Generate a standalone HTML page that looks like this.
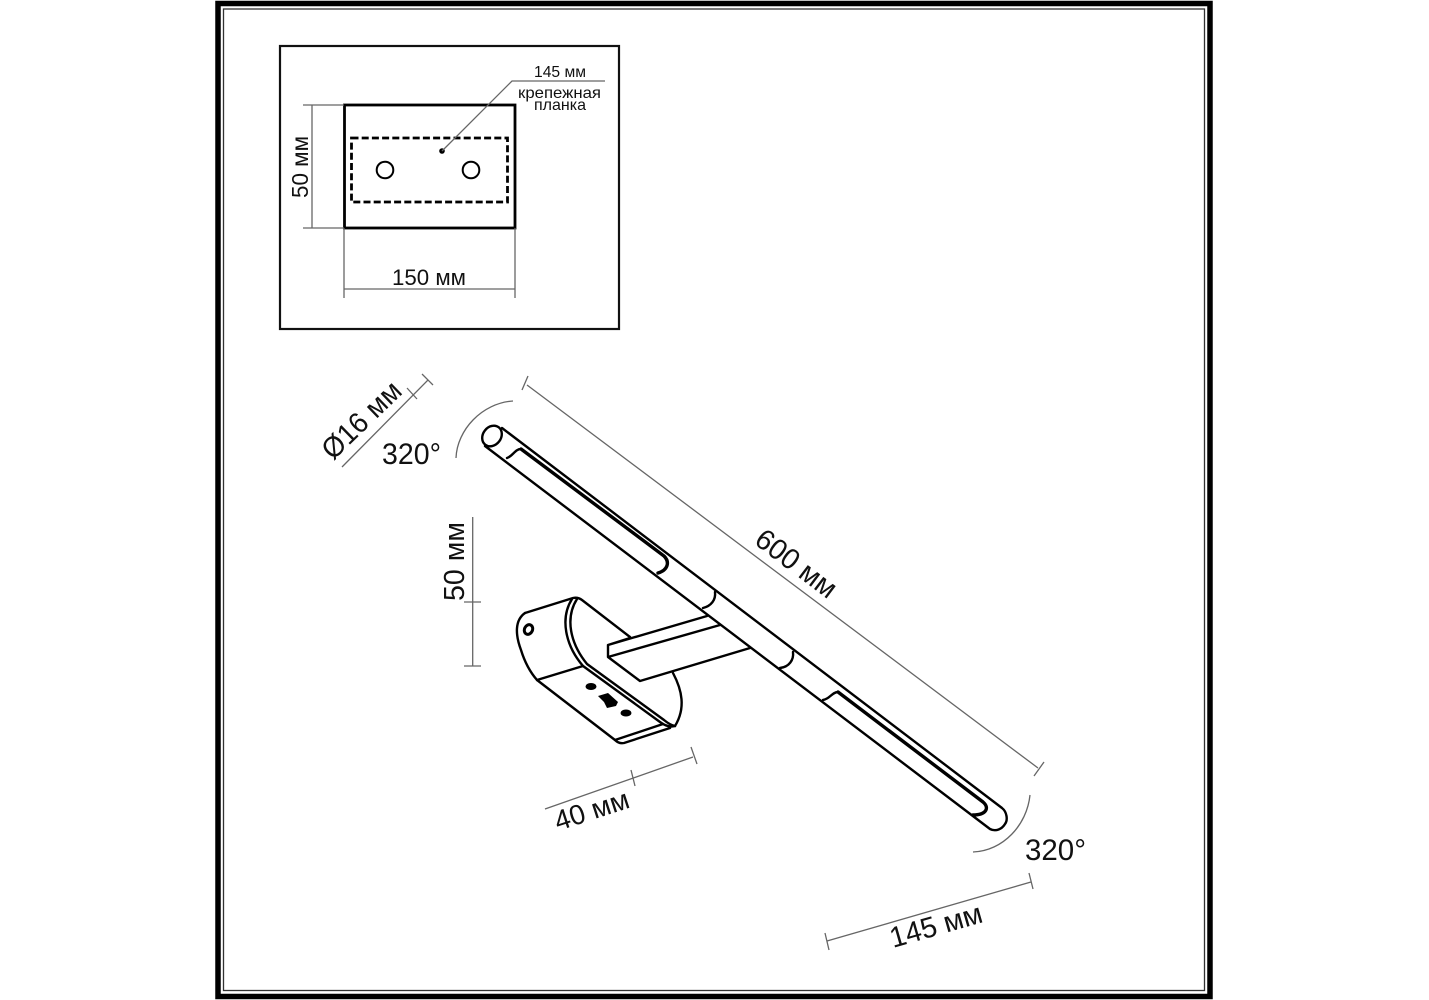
<!DOCTYPE html>
<html><head><meta charset="utf-8"><style>
html,body{margin:0;padding:0;background:#fff}
svg{display:block}
text{font-family:"Liberation Sans","DejaVu Sans",sans-serif;fill:#111}
.g{fill:none;stroke:#666;stroke-width:1.3}
.k{fill:none;stroke:#000;stroke-width:2.4;stroke-linejoin:round;stroke-linecap:round}
</style></head><body>
<svg width="1429" height="1000" viewBox="0 0 1429 1000" xmlns="http://www.w3.org/2000/svg">
<rect x="218" y="3.5" width="992" height="993" fill="none" stroke="#000" stroke-width="5.5"/>
<rect x="223.5" y="9" width="981" height="981.5" fill="none" stroke="#333" stroke-width="1.3"/>

<!-- inset -->
<rect x="280" y="46" width="339" height="283" fill="none" stroke="#111" stroke-width="2.2"/>
<rect x="344.5" y="105" width="170.5" height="123" fill="none" stroke="#000" stroke-width="2.8"/>
<rect x="351.5" y="138" width="156" height="64" fill="none" stroke="#000" stroke-width="2.8" stroke-dasharray="7 3.2"/>
<circle cx="385" cy="170" r="8.3" fill="none" stroke="#000" stroke-width="2"/>
<circle cx="471" cy="170" r="8.3" fill="none" stroke="#000" stroke-width="2"/>
<circle cx="442" cy="151" r="2.8" fill="#000"/>
<path class="g" d="M442 151L512 81H605M303 105H344M303 228H344M312 105V228M344 228V298M515 228V298M344 289H515"/>
<text x="534" y="77" font-size="15.5" textLength="52" lengthAdjust="spacingAndGlyphs">145 мм</text>
<text x="518" y="98" font-size="16" textLength="83" lengthAdjust="spacingAndGlyphs">крепежная</text>
<text x="534" y="110" font-size="16" textLength="52" lengthAdjust="spacingAndGlyphs">планка</text>
<text x="392" y="285" font-size="22" textLength="74" lengthAdjust="spacingAndGlyphs">150 мм</text>
<text transform="translate(308,198) rotate(-90)" font-size="23.5" textLength="62" lengthAdjust="spacingAndGlyphs">50 мм</text>

<!-- dimensions -->
<path class="g" d="M527 385L1038 768M522 390L528 376M1034 776L1044 762"/>
<path class="g" d="M342 467L428 380M422 374L433 385M407 388L417 399"/>
<path class="g" d="M456 458C457 430 482 403 513 401"/>
<path class="g" d="M1030 795C1027 825 1003 851 973 852"/>
<path class="g" d="M472.7 517V666M464 602H481M464 666H481"/>
<path class="g" d="M545 809L693 757M631 770L635 786M691 747L697 764"/>
<path class="g" d="M827 941L1031 882M825 933L829 950M1029 873L1033 889"/>
<text transform="translate(753,543) rotate(37)" font-size="29" textLength="94" lengthAdjust="spacingAndGlyphs">600 мм</text>
<text transform="translate(333,461) rotate(-44)" font-size="29" textLength="98" lengthAdjust="spacingAndGlyphs">Ø16 мм</text>
<text x="382" y="464" font-size="30" textLength="59" lengthAdjust="spacingAndGlyphs">320°</text>
<text x="1025" y="860" font-size="30" textLength="61" lengthAdjust="spacingAndGlyphs">320°</text>
<text transform="translate(464,601) rotate(-90)" font-size="29" textLength="79" lengthAdjust="spacingAndGlyphs">50 мм</text>
<text transform="translate(558,831) rotate(-18)" font-size="28" textLength="77" lengthAdjust="spacingAndGlyphs">40 мм</text>
<text transform="translate(893,948) rotate(-16)" font-size="29" textLength="95" lengthAdjust="spacingAndGlyphs">145 мм</text>

<!-- bracket body -->
<path class="k" d="M525 613L573 598Q578 597 582 600L630 637"/>
<path class="k" d="M525 613C515 620 515 634 521 650C525 663 530 672 537 680L615 740Q619 744 624 743L670 728"/>
<path class="k" d="M537 680L583 666M615 740L663 724"/>
<path class="k" d="M572 599C560 618 565 645 583 666L660 722Q668 728 675 726"/>
<path class="k" d="M577 599C565 618 570 643 587 664L664 720Q670 725 675 726"/>
<path class="k" d="M673 673C682 690 686 708 675 726"/>
<ellipse cx="528.5" cy="629.5" rx="4" ry="5" transform="rotate(25 528.5 629.5)" fill="#fff" stroke="#000" stroke-width="3"/>
<ellipse cx="591" cy="686.5" rx="5.5" ry="3.5" fill="#000"/>
<ellipse cx="626" cy="713" rx="5.5" ry="3.5" fill="#000"/>
<path d="M598 696L608 693L618 702L616 706L607 708L604 702Z" fill="#000"/>

<!-- arm -->
<path d="M608 645L707 616L750 648L640 681L610 657Z" fill="#fff"/>
<path class="k" d="M630 638L608 645V657L640 681L750 648M608 657L720 625M608 645L707 616"/>

<!-- rod -->
<path class="k" d="M502 428L1002 808C1007 812 1008 820 1005 824C1002 829 996 832 990 829L485 446"/>
<ellipse cx="492" cy="436" rx="11" ry="9" transform="rotate(-52 492 436)" fill="#fff" stroke="#000" stroke-width="2.4"/>
<path class="k" d="M507 458C513 456 515 449 521 449"/>
<path d="M521 449L664 556C670 562 668 570 658 573" fill="none" stroke="#000" stroke-width="3.4" stroke-linecap="round"/>
<path class="k" d="M715 592C716 600 711 606 703 608"/>
<path class="k" d="M793 652C794 660 789 667 780 668"/>
<path class="k" d="M823 700C830 699 832 692 838 692"/>
<path d="M838 692L983 802C990 808 986 815 973 815" fill="none" stroke="#000" stroke-width="3.4" stroke-linecap="round"/>
</svg>
</body></html>
